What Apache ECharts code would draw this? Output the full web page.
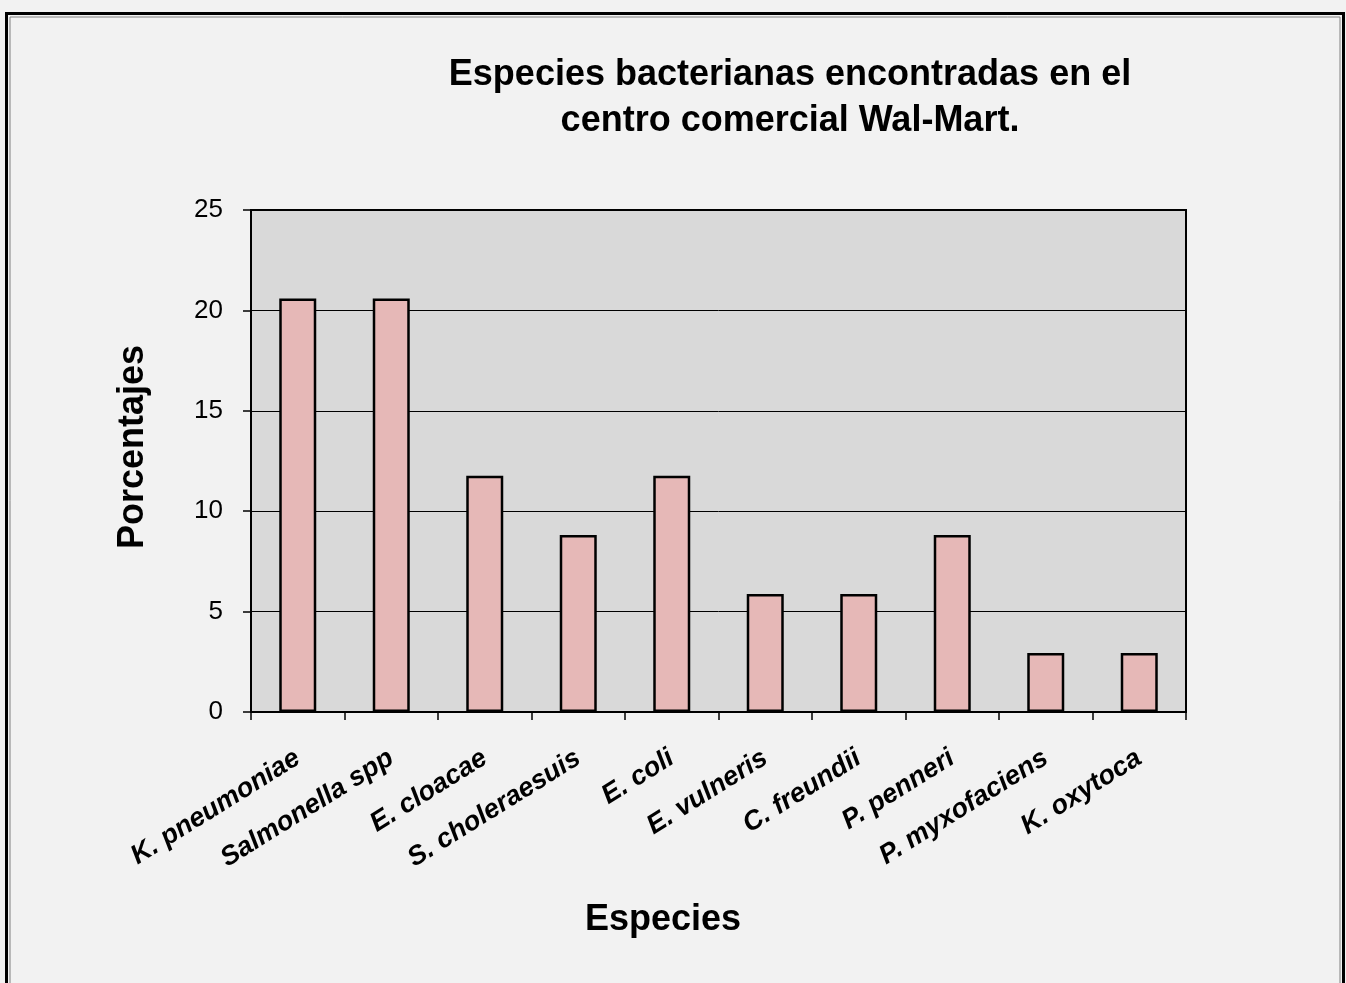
<!DOCTYPE html>
<html><head><meta charset="utf-8">
<script src="https://cdn.jsdelivr.net/npm/echarts@6/dist/echarts.min.js"></script>
<style>html,body{margin:0;padding:0;background:#f2f2f2}#c{width:1346px;height:983px}</style>
</head><body><div id="c"></div>
<script>
const categories = ["K. pneumoniae","Salmonella spp","E. cloacae","S. choleraesuis","E. coli","E. vulneris","C. freundii","P. penneri","P. myxofaciens","K. oxytoca"];
const values = [20.59, 20.59, 11.76, 8.82, 11.76, 5.88, 5.88, 8.82, 2.94, 2.94];
const titleText = "Especies bacterianas encontradas en el\ncentro comercial Wal-Mart.";
const xName = "Especies";
const yName = "Porcentajes";
const FONT = 'Liberation Sans, Arial, sans-serif';

const chart = echarts.init(document.getElementById('c'));
chart.setOption({
  backgroundColor: '#f2f2f2',
  animation: false,
  title: {
    text: titleText, left: 785, top: 47, textAlign: 'center',
    textStyle: {fontFamily: FONT, fontWeight: 'bold', fontSize: 36, lineHeight: 46, color: '#000'}
  },
  graphic: [
    {type: 'rect', shape: {x: 6.5, y: 13.5, width: 1337, height: 1000}, style: {fill: 'none', stroke: '#000', lineWidth: 3}},
    {type: 'rect', shape: {x: 10, y: 17, width: 1330, height: 1000}, style: {fill: 'none', stroke: '#808080', lineWidth: 1}},
    {type: 'text', x: 133, y: 447, rotation: Math.PI/2, style: {text: yName, font: 'bold 36px ' + FONT, fill: '#000', align: 'center', verticalAlign: 'middle'}},
    {type: 'text', x: 663, y: 920, style: {text: xName, font: 'bold 36px ' + FONT, fill: '#000', align: 'center', verticalAlign: 'middle'}}
  ],
  grid: {left: 251, top: 210, width: 935, height: 502, show: true, backgroundColor: '#d9d9d9', borderColor: '#000', borderWidth: 2},
  xAxis: {
    type: 'category', data: categories, boundaryGap: true,
    axisLine: {lineStyle: {color: '#000', width: 2}},
    axisTick: {show: true, length: 8, lineStyle: {color: '#000', width: 1.5}},
    axisLabel: {rotate: 32, margin: 44, interval: 0, color: '#000', fontFamily: FONT, fontWeight: 'bold', fontStyle: 'italic', fontSize: 27}
  },
  yAxis: {
    type: 'value', min: 0, max: 25, interval: 5,
    axisLine: {show: true, lineStyle: {color: '#000', width: 2}},
    axisTick: {show: true, length: 8, lineStyle: {color: '#000', width: 1.5}},
    axisLabel: {color: '#000', fontFamily: FONT, fontSize: 26, margin: 28},
    splitLine: {show: true, lineStyle: {color: '#000', width: 1}}
  },
  series: [{
    type: 'bar', data: values, barWidth: 37,
    itemStyle: {color: '#e6b8b7', borderColor: '#000', borderWidth: 2.5}
  }]
});
</script></body></html>
